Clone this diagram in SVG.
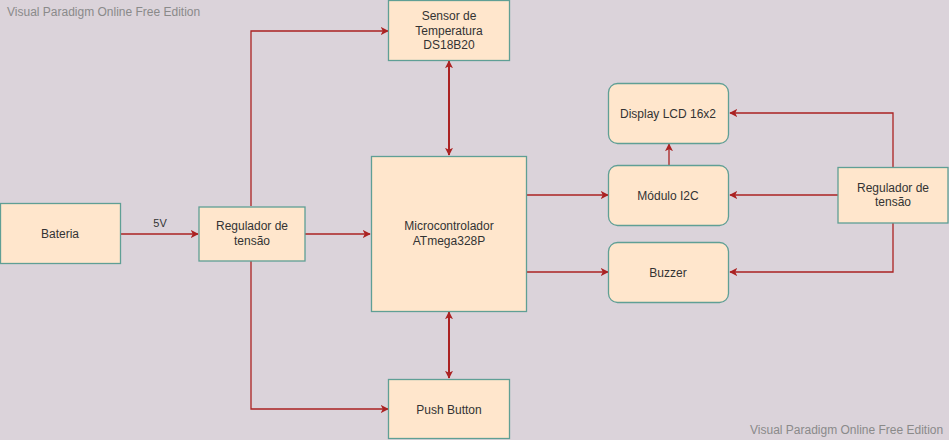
<svg xmlns="http://www.w3.org/2000/svg" width="949" height="440" viewBox="0 0 949 440">
<defs>
<style>
.n{fill:#ffe6cc;stroke:#5f9f95;stroke-width:1.3}
.t{font-family:"Liberation Sans",Arial,sans-serif;font-size:12px;fill:#333;text-anchor:middle}
.w{font-family:"Liberation Sans",Arial,sans-serif;font-size:12px;fill:#8a8a8a}
.c{fill:none;stroke:#ab2222;stroke-width:1.3}
.b{stroke-width:2}
</style>
<marker id="a" viewBox="0 0 10 10" refX="9" refY="5" markerWidth="8" markerHeight="8" markerUnits="userSpaceOnUse" orient="auto-start-reverse">
<path d="M0,0 L10,5 L0,10 L2.5,5 Z" fill="#ab2222"/>
</marker>
</defs>
<rect width="949" height="440" fill="#dbd3da"/>
<text class="w" x="7" y="16">Visual Paradigm Online Free Edition</text>
<text class="w" x="750" y="434">Visual Paradigm Online Free Edition</text>
<g id="connectors">
<path class="c" d="M120,234 H198" marker-end="url(#a)"/>
<path class="c" d="M305,234 H370" marker-end="url(#a)"/>
<path class="c" d="M251,206 V31 H388" marker-end="url(#a)"/>
<path class="c" d="M251,260 V409 H388" marker-end="url(#a)"/>
<path class="c b" d="M449,61 V155" marker-start="url(#a)" marker-end="url(#a)"/>
<path class="c b" d="M449,312 V378" marker-start="url(#a)" marker-end="url(#a)"/>
<path class="c" d="M526,195 H608" marker-end="url(#a)"/>
<path class="c" d="M526,272 H608" marker-end="url(#a)"/>
<path class="c" d="M669,165 V144" marker-end="url(#a)"/>
<path class="c" d="M838,195 H730" marker-end="url(#a)"/>
<path class="c" d="M893,167 V113 H730" marker-end="url(#a)"/>
<path class="c" d="M893,223 V272 H730" marker-end="url(#a)"/>
<text class="t" x="160" y="227" style="font-size:11px">5V</text>
</g>
<g id="bateria"><rect class="n" x="0.5" y="203.5" width="120" height="60"/><text class="t" x="60" y="238">Bateria</text></g>
<g id="regulador1"><rect class="n" x="199" y="207" width="106" height="54"/><text class="t" x="252" y="230">Regulador de</text><text class="t" x="252" y="245">tensão</text></g>
<g id="micro"><rect class="n" x="371.5" y="156.5" width="155" height="155"/><text class="t" x="449" y="230">Microcontrolador</text><text class="t" x="449" y="245">ATmega328P</text></g>
<g id="sensor"><rect class="n" x="388.5" y="0.5" width="121" height="60"/><text class="t" x="449" y="20">Sensor de</text><text class="t" x="449" y="35">Temperatura</text><text class="t" x="449" y="49">DS18B20</text></g>
<g id="push"><rect class="n" x="388.5" y="379.5" width="121" height="59"/><text class="t" x="449" y="414">Push Button</text></g>
<g id="display"><rect class="n" x="608.5" y="83.5" width="120" height="60" rx="9"/><text class="t" x="668" y="118">Display LCD 16x2</text></g>
<g id="i2c"><rect class="n" x="608.5" y="165.5" width="120" height="60" rx="9"/><text class="t" x="668" y="200">Módulo I2C</text></g>
<g id="buzzer"><rect class="n" x="608.5" y="242.5" width="120" height="60" rx="9"/><text class="t" x="668" y="277">Buzzer</text></g>
<g id="regulador2"><rect class="n" x="838" y="167.5" width="110" height="55.5"/><text class="t" x="893" y="192">Regulador de</text><text class="t" x="893" y="206">tensão</text></g>
</svg>
